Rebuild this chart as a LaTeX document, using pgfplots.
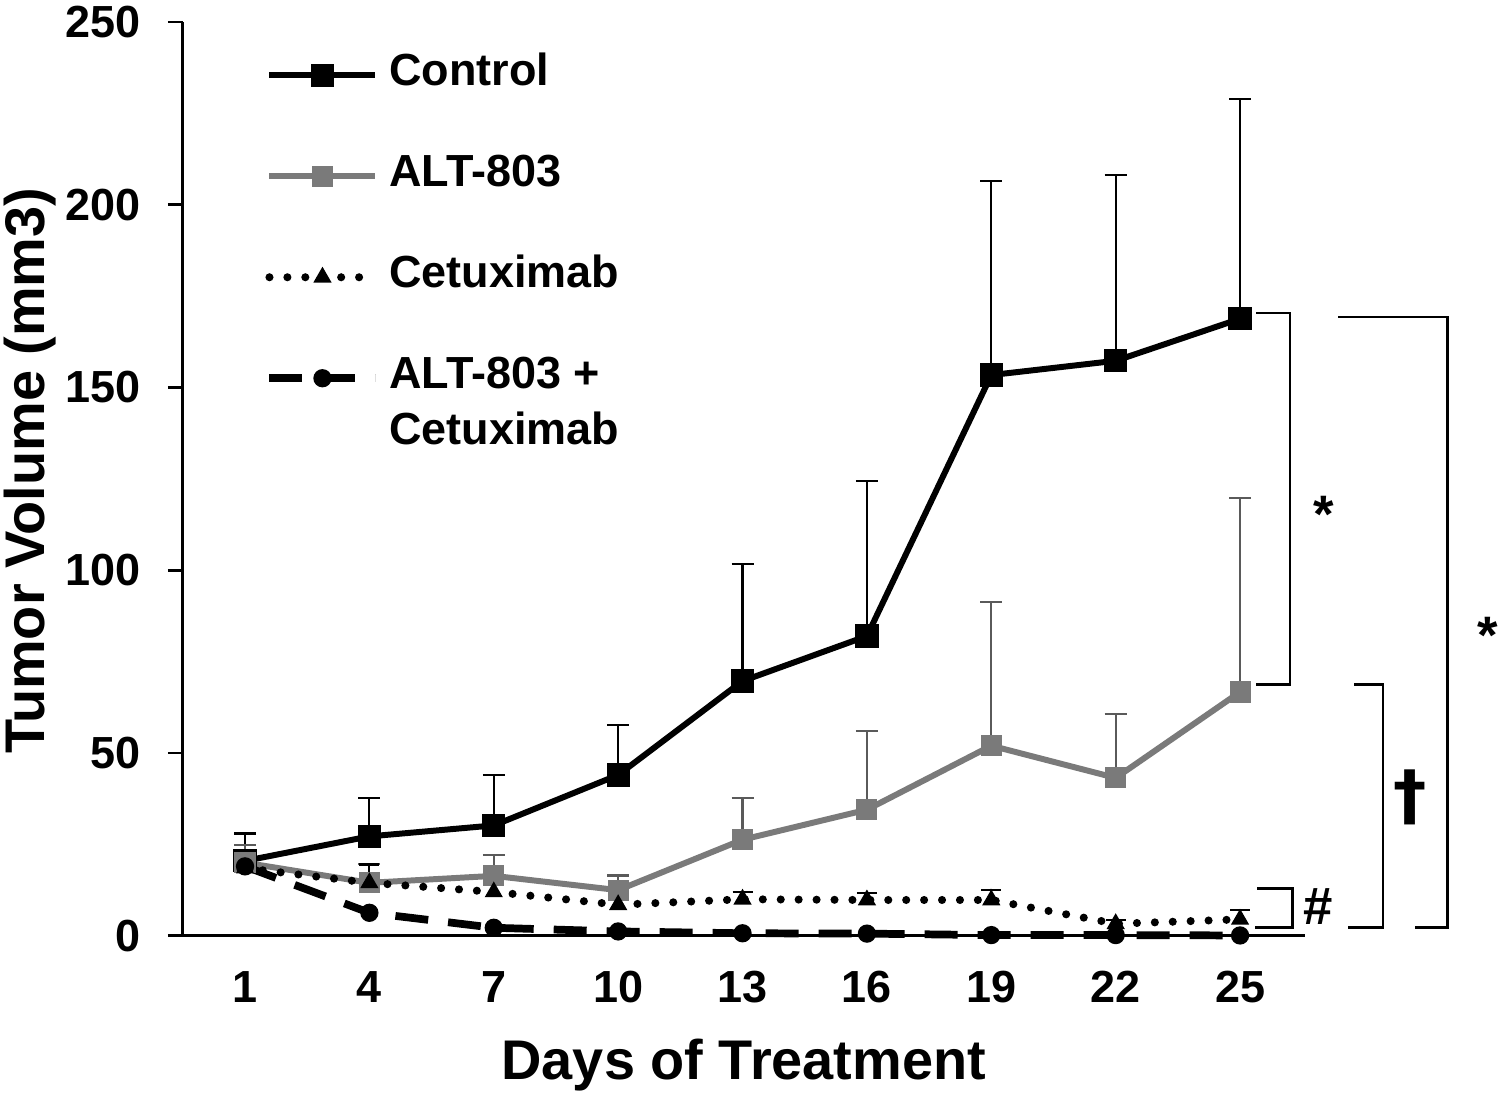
\documentclass[border=0pt]{standalone}
\usepackage{pgfplots}
\pgfplotsset{compat=1.18}
\usepackage{fontspec}
\setmainfont{Liberation Sans}
\newfontfamily\daggerfont{DejaVu Sans}
\definecolor{altgray}{RGB}{122,122,122}
\definecolor{errgray}{RGB}{90,90,90}
\begin{document}
\begin{tikzpicture}
\begin{axis}[
 scale only axis, width=11.22cm, height=9.14cm,
 xmin=-0.5, xmax=8.52, ymin=0, ymax=250,
 axis x line*=bottom, axis y line*=left,
 axis line style={line width=0.9pt, -},
 xtick={0,...,8}, xticklabels={1,4,7,10,13,16,19,22,25},
 ytick={0,50,...,250},
 x tick style={draw=none},
 y tick style={line width=0.8pt, black},
 tick align=outside, major tick length=0.15cm,
 /pgf/number format/assume math mode=true,
 tick label style={font=\fontsize{12.8}{15}\selectfont\bfseries},
 xticklabel style={yshift=-0.08cm},
 yticklabel style={xshift=-0.15cm},
 label style={font=\fontsize{15.9}{18}\selectfont\bfseries},
 xlabel style={at={(rel axis cs:0.5,-0.1575)}, anchor=base},
 ylabel style={at={(rel axis cs:-0.123,0.5088)}, anchor=base, rotate=0},
 xlabel={Days of Treatment},
 ylabel={Tumor Volume (mm3)},
 clip=false,
 legend cell align=left,
 legend style={draw=none, fill=none, at={(0.073,0.967)}, anchor=north west,
   inner sep=0pt, row sep=0.56cm, column sep=0.1cm,
   nodes={inner sep=0pt, text height=0.33cm, text depth=0.12cm,
     font=\fontsize{12.8}{15.8}\selectfont\bfseries}},
 legend image code/.code={\draw[mark repeat=2,mark phase=2,#1] plot coordinates {(0cm,0cm) (0.53cm,0cm) (1.06cm,0cm)};},
]
% Control
\addplot[black, line width=1.7pt, mark=square*, mark size=3.1pt, mark options={solid, line width=0.4pt},
  error bars/.cd, y dir=plus, y explicit,
  error bar style={line width=0.6pt, black},
  error mark options={rotate=90, mark size=0.11cm, line width=0.6pt, black}]
 coordinates {(0,20.5) +- (0,7.5) (1,27.2) +- (0,10.5) (2,30.2) +- (0,13.8) (3,44) +- (0,13.7)
  (4,69.7) +- (0,32) (5,82) +- (0,42.5) (6,153.4) +- (0,53.1) (7,157.3) +- (0,50.9) (8,168.8) +- (0,60.2)};
\addlegendentry{Control}
% ALT-803
\addplot[altgray, line width=1.7pt, mark=square*, mark size=2.8pt, mark options={solid, line width=0.4pt},
  error bars/.cd, y dir=plus, y explicit,
  error bar style={line width=0.6pt, errgray},
  error mark options={rotate=90, mark size=0.11cm, line width=0.6pt, errgray}]
 coordinates {(0,20) +- (0,4.9) (1,14.5) +- (0,5.2) (2,16.4) +- (0,5.8) (3,12.5) +- (0,4)
  (4,26.3) +- (0,11.4) (5,34.5) +- (0,21.5) (6,52) +- (0,39.4) (7,43.2) +- (0,17.5) (8,66.7) +- (0,53.1)};
\addlegendentry{ALT-803}
% Cetuximab
\addplot[black, line width=2.3pt, line cap=round, dash pattern=on 0pt off 5.1pt,
  mark=triangle*, mark size=2.6pt, mark options={solid, line width=0.4pt},
  error bars/.cd, y dir=plus, y explicit,
  error bar style={line width=0.6pt, black, solid},
  error mark options={rotate=90, mark size=0.1cm, line width=0.6pt, black, solid}]
 coordinates {(0,18.5) +- (0,2.5) (1,14.5) +- (0,5) (2,12) +- (0,2) (3,8.5) +- (0,1.5)
  (4,10) +- (0,2) (5,9.8) +- (0,2) (6,9.8) +- (0,2.8) (7,3.3) +- (0,1) (8,4.5) +- (0,2.6)};
\addlegendentry{Cetuximab}
% Combination
\addplot[black, line width=2.2pt, dash pattern=on 0.33cm off 0.2cm,
  mark=*, mark size=2.4pt, mark options={solid, line width=0.4pt}]
 coordinates {(0,19) (1,6.3) (2,2.2) (3,1.2) (4,0.7) (5,0.6) (6,0.2) (7,0.2) (8,0.1)};
\addlegendentry{\begin{tabular}[t]{@{}l@{}}ALT-803 +\\Cetuximab\end{tabular}}
% significance brackets
\draw[line width=0.75pt] (axis cs:8.13,170.4) -- (axis cs:8.40,170.4) -- (axis cs:8.40,68.7) -- (axis cs:8.13,68.7);
\draw[line width=0.75pt] (axis cs:8.79,169.3) -- (axis cs:9.67,169.3) -- (axis cs:9.67,2.2) -- (axis cs:9.41,2.2);
\draw[line width=0.75pt] (axis cs:8.92,68.7) -- (axis cs:9.15,68.7) -- (axis cs:9.15,2.2) -- (axis cs:8.87,2.2);
\draw[line width=0.75pt] (axis cs:8.14,12.9) -- (axis cs:8.42,12.9) -- (axis cs:8.42,2.2) -- (axis cs:8.12,2.2);
\node[font=\fontsize{15}{17}\selectfont\bfseries] at (axis cs:8.67,115.2) {*};
\node[font=\fontsize{15}{17}\selectfont\bfseries] at (axis cs:9.99,82.3) {*};
\node[font=\fontsize{19}{22}\selectfont\daggerfont\bfseries] at (axis cs:9.37,38) {\symbol{"2020}};
\node[font=\fontsize{15}{17}\selectfont\bfseries] at (axis cs:8.63,7.9) {\#};
\coordinate (bbl) at (axis cs:-1.97,-43.5);
\coordinate (bbr) at (axis cs:10.09,256);
\end{axis}
\pgfresetboundingbox
\path[use as bounding box] (bbl) rectangle (bbr);
\end{tikzpicture}
\end{document}
